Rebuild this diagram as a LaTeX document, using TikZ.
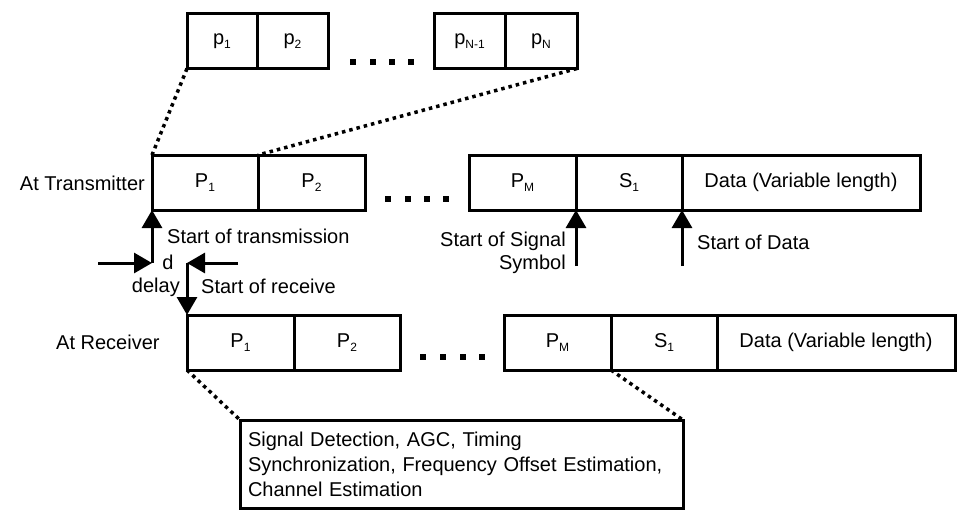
\documentclass[tikz,border=0pt]{standalone}
\usepackage{fontspec}
\setmainfont{Liberation Sans}
\usetikzlibrary{arrows.meta}
\newcommand\lowsub[1]{\raisebox{-0.45ex}{\fontsize{12}{12}\selectfont #1}}
\tikzset{
  cell/.style={draw, line width=3pt, minimum height=55pt, inner sep=0pt, outer sep=0pt, font=\fontsize{20}{24}\selectfont},
  lbl/.style={inner sep=0pt, font=\fontsize{20}{24}\selectfont},
  marker/.style={line width=3pt, -{Triangle[length=18pt,width=20pt]}},
  zoomline/.style={line width=3.5pt, dash pattern=on 3.5pt off 4pt},
  dot/.style={fill, minimum size=6pt, inner sep=0pt},
}
\begin{document}
\begin{tikzpicture}[x=1pt,y=-1pt]
\useasboundingbox (0,0) rectangle (960,509);

% sub-symbols of one preamble symbol
\node[cell, minimum width=70pt] (p1) at (222,41) {p\lowsub{1}};
\node[cell, minimum width=71pt] (p2) at (292.5,41) {p\lowsub{2}};
\node[cell, minimum width=71pt] (pn1) at (469.5,41) {p\lowsub{N-1}};
\node[cell, minimum width=72pt] (pn) at (541,41) {p\lowsub{N}};
\foreach \x [count=\i] in {353,373,392,411} \node[dot] (td\i) at (\x,62) {};

% transmitted frame
\node[lbl, anchor=east] (tx) at (145,183) {At Transmitter};
\node[cell, minimum width=106pt] (tP1) at (205,182.5) {P\lowsub{1}};
\node[cell, minimum width=107pt] (tP2) at (311.5,182.5) {P\lowsub{2}};
\node[cell, minimum width=107pt] (tPM) at (522.5,182.5) {P\lowsub{M}};
\node[cell, minimum width=106pt] (tS1) at (629,182.5) {S\lowsub{1}};
\node[cell, minimum width=238pt] (tD) at (801,182.5) {Data (Variable length)};
\foreach \x [count=\i] in {388,408,427,446} \node[dot] (md\i) at (\x,199) {};

% received frame
\node[lbl, anchor=west] (rx) at (56,342) {At Receiver};
\node[cell, minimum width=107pt] (rP1) at (240.5,342.5) {P\lowsub{1}};
\node[cell, minimum width=106pt] (rP2) at (347,342.5) {P\lowsub{2}};
\node[cell, minimum width=107pt] (rPM) at (557.5,342.5) {P\lowsub{M}};
\node[cell, minimum width=106pt] (rS1) at (664,342.5) {S\lowsub{1}};
\node[cell, minimum width=238pt] (rD) at (836,342.5) {Data (Variable length)};
\foreach \x [count=\i] in {423,443,463,482} \node[dot] (bd\i) at (\x,357) {};

% preamble processing box
\node[draw, line width=3pt, outer sep=0pt, anchor=north west, minimum width=443pt, minimum height=88pt,
      text width=427pt, inner xsep=8pt, inner ysep=0pt, align=left,
      font=\fontsize{20}{25}\selectfont] (proc) at (240,420)
  {Signal Detection, AGC, Timing\\Synchronization, Frequency Offset Estimation,\\Channel Estimation};

% zoom lines
\draw[zoomline] (p1.south west) -- (tP1.north west);
\draw[zoomline] (pn.south east) -- (tP2.north west);
\draw[zoomline] (rP1.south west) -- (proc.north west);
\draw[zoomline] (rPM.south east) -- (proc.north east);

% timing markers
\coordinate (tst) at (tP1.south west |- 0,263);
\coordinate (dl) at (98,263);
\coordinate (rst) at (rP1.north west |- 0,263);
\coordinate (dr) at (238,263);
\draw[marker] (tst) -- (tP1.south west);
\draw[marker] (dl) -- (tst);
\draw[marker] (dr) -- (rst);
\draw[marker] (rst) -- (rP1.north west);

\coordinate (sigs) at (tPM.south east |- 0,266);
\coordinate (dats) at (tS1.south east |- 0,266);
\draw[marker] (sigs) -- (tPM.south east);
\draw[marker] (dats) -- (tS1.south east);

% labels
\node[lbl, anchor=west] (lt) at (167,236) {Start of transmission};
\node[lbl] (ld) at (168,262) {d};
\node[lbl, anchor=east] (ldel) at (180,287) {delay};
\node[lbl, anchor=west] (lr) at (201,286) {Start of receive};
\node[lbl, anchor=east, align=right, font=\fontsize{20}{23}\selectfont] (ls) at (566,253) {Start of Signal\\Symbol};
\node[lbl, anchor=west] (ldat) at (697,242) {Start of Data};
\end{tikzpicture}
\end{document}
